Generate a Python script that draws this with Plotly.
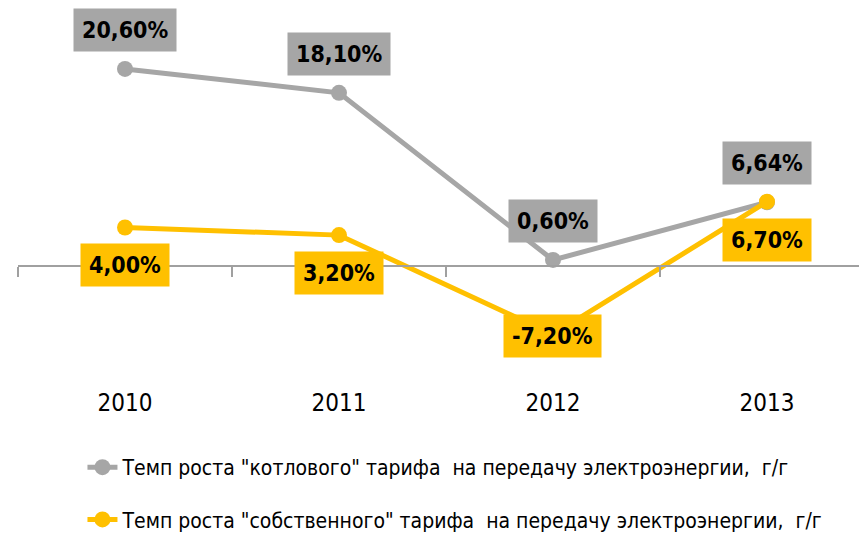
import plotly.graph_objects as go

# Year-over-year growth of electricity transmission tariffs, %
years = ["2010", "2011", "2012", "2013"]
boiler_growth = [20.6, 18.1, 0.6, 6.64]   # "котловой" tariff
own_growth = [4.0, 3.2, -7.2, 6.7]        # "собственный" tariff

boiler_name = 'Темп роста "котлового" тарифа\u00a0 на передачу электроэнергии,\u00a0 г/г'
own_name = 'Темп роста "собственного" тарифа\u00a0 на передачу электроэнергии,\u00a0 г/г'

GRAY = "#A6A6A6"
YELLOW = "#FFC000"
AXIS = "#A0A0A0"
FONT = "DejaVu Sans Condensed, Liberation Sans Narrow, sans-serif"

# label placement per point of the "own" series
own_label_side = ["below", "below", "center", "below"]

x_idx = list(range(len(years)))
y_range = [-11.97, 27.82]
x_range = [-0.5, 3.43]

fig = go.Figure()
fig.add_trace(go.Scatter(
    x=x_idx, y=boiler_growth, name=boiler_name, mode="lines+markers",
    line=dict(color=GRAY, width=5), marker=dict(color=GRAY, size=16),
    legendgroup="a",
))
fig.add_trace(go.Scatter(
    x=x_idx, y=own_growth, name=own_name, mode="lines+markers",
    line=dict(color=YELLOW, width=5), marker=dict(color=YELLOW, size=16),
    legendgroup="b",
))


def fmt(v):
    return f"{v:.2f}".replace(".", ",") + "%"


label_font = dict(family=FONT, size=23, color="black", weight="bold")
annotations = []
for xi, v in zip(x_idx, boiler_growth):
    annotations.append(dict(
        x=xi, y=v, xref="x", yref="y", text=fmt(v), showarrow=False,
        yanchor="middle", yshift=39, bgcolor=GRAY, borderpad=8,
        font=label_font,
    ))
for xi, v, side in zip(x_idx, own_growth, own_label_side):
    shift = -38 if side == "below" else -2
    annotations.append(dict(
        x=xi, y=v, xref="x", yref="y", text=fmt(v), showarrow=False,
        yanchor="middle", yshift=shift, bgcolor=YELLOW, borderpad=8,
        font=label_font,
    ))

zero_pos = (0 - y_range[0]) / (y_range[1] - y_range[0])

fig.update_layout(
    width=859, height=534,
    margin=dict(l=18, r=0, t=0, b=154, autoexpand=False),
    plot_bgcolor="white", paper_bgcolor="white",
    font=dict(family=FONT, color="black"),
    annotations=annotations,
    xaxis=dict(
        range=x_range, tickvals=x_idx, ticktext=years,
        showline=False, showgrid=False, zeroline=False, ticks="",
        ticklabelstandoff=6,
        tickfont=dict(family=FONT, size=24, color="black"),
    ),
    xaxis2=dict(
        overlaying="x", anchor="free", position=zero_pos, range=x_range,
        showline=True, linecolor=AXIS, linewidth=2,
        tickvals=[i - 0.5 for i in x_idx], ticks="outside", ticklen=10,
        tickcolor=AXIS, tickwidth=2, showticklabels=False, showgrid=False,
        zeroline=False,
    ),
    yaxis=dict(
        range=y_range, visible=False, showgrid=False, zeroline=False,
    ),
    showlegend=True,
    legend=dict(
        orientation="v", xref="container", yref="container",
        x=0.096, y=1 - 447 / 534, xanchor="left", yanchor="top",
        font=dict(family=FONT, size=21, color="black"),
        tracegroupgap=22, bgcolor="rgba(0,0,0,0)",
    ),
)

# invisible trace so the zero-line axis is rendered
fig.add_trace(go.Scatter(x=x_range, y=[0, 0], xaxis="x2", yaxis="y",
                         mode="lines", line=dict(width=0),
                         showlegend=False, hoverinfo="skip"))

fig.write_html("out.html")
